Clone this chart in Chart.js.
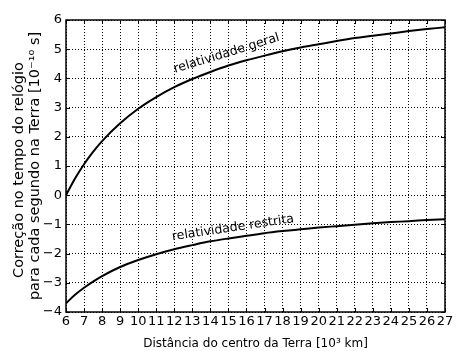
<!DOCTYPE html>
<html><head><meta charset="utf-8">
<script src="https://cdn.jsdelivr.net/npm/chart.js@4/dist/chart.umd.min.js"></script>
<style>html,body{margin:0;padding:0;background:#fff}#wrap{width:467px;height:351px}</style>
</head><body><div id="wrap"><canvas id="c" width="467" height="351"></canvas></div>
<script>
const distances = [6, 6.5, 7, 7.5, 8, 9, 10, 11, 12, 13, 14, 15, 16, 17, 18, 19, 20, 21, 22, 23, 24, 25, 26, 27];
const geral = [0.00, 0.57, 1.06, 1.48, 1.85, 2.46, 2.96, 3.36, 3.70, 3.98, 4.22, 4.44, 4.62, 4.78, 4.93, 5.06, 5.17, 5.28, 5.38, 5.46, 5.54, 5.62, 5.69, 5.75];
const restrita = [-3.70, -3.41, -3.17, -2.96, -2.77, -2.46, -2.22, -2.02, -1.85, -1.71, -1.58, -1.48, -1.39, -1.30, -1.23, -1.17, -1.11, -1.06, -1.01, -0.96, -0.92, -0.89, -0.85, -0.82];
const xTicks = [6,7,8,9,10,11,12,13,14,15,16,17,18,19,20,21,22,23,24,25,26,27];
const yTicks = [-4,-3,-2,-1,0,1,2,3,4,5,6];
const labelGeral = 'relatividade geral';
const labelRestrita = 'relatividade restrita';
const xTitle = 'Distância do centro da Terra [10³ km]';
const yTitle = ['Correção no tempo do relógio', 'para cada segundo na Terra [10⁻¹⁰ s]'];

const FONT = 'DejaVu Sans';
const L = 66, R = 445, T = 20, B = 312, W = 467, H = 351;

const frame = {
  id: 'frame',
  afterDraw(chart) {
    const ctx = chart.ctx, a = chart.chartArea, xs = chart.scales.x, ys = chart.scales.y;
    ctx.save();
    ctx.strokeStyle = '#000';
    ctx.lineWidth = 1;
    ctx.beginPath();
    xTicks.forEach(v => { const p = Math.round(xs.getPixelForValue(v)) + 0.5;
      ctx.moveTo(p, a.bottom); ctx.lineTo(p, a.bottom - 4);
      ctx.moveTo(p, a.top); ctx.lineTo(p, a.top + 4); });
    yTicks.forEach(v => { const p = Math.round(ys.getPixelForValue(v)) + 0.5;
      ctx.moveTo(a.left, p); ctx.lineTo(a.left + 4, p);
      ctx.moveTo(a.right, p); ctx.lineTo(a.right - 4, p); });
    ctx.stroke();
    ctx.lineWidth = 1.5;
    ctx.strokeRect(a.left, a.top, a.right - a.left, a.bottom - a.top);
    ctx.fillStyle = '#000';
    ctx.font = '12.5px "' + FONT + '"';
    ctx.textAlign = 'center'; ctx.textBaseline = 'middle';
    const gx = xs.getPixelForValue(14.9), gy = ys.getPixelForValue(4.85);
    ctx.save(); ctx.translate(gx, gy); ctx.rotate(-17 * Math.PI / 180); ctx.fillText(labelGeral, 0, 0); ctx.restore();
    const rx = xs.getPixelForValue(15.25), ry = ys.getPixelForValue(-1.12);
    ctx.save(); ctx.translate(rx, ry); ctx.rotate(-8.5 * Math.PI / 180); ctx.fillText(labelRestrita, 0, 0); ctx.restore();
    // y axis title, two lines
    ctx.font = '14.5px "' + FONT + '"';
    const cy = (a.top + a.bottom) / 2 + 4;
    ctx.save(); ctx.translate(19, cy); ctx.rotate(-Math.PI / 2); ctx.fillText(yTitle[0], 0, 0); ctx.restore();
    ctx.save(); ctx.translate(35, cy - 4); ctx.rotate(-Math.PI / 2); ctx.fillText(yTitle[1], 0, 0); ctx.restore();
    ctx.restore();
  }
};

new Chart(document.getElementById('c'), {
  type: 'line',
  data: {
    datasets: [
      { data: distances.map((d, i) => ({x: d, y: geral[i]})), borderColor: '#000', borderWidth: 2, pointRadius: 0, cubicInterpolationMode: 'monotone', fill: false },
      { data: distances.map((d, i) => ({x: d, y: restrita[i]})), borderColor: '#000', borderWidth: 2, pointRadius: 0, cubicInterpolationMode: 'monotone', fill: false }
    ]
  },
  options: {
    responsive: false, animation: false, devicePixelRatio: 1,
    layout: { padding: { top: T, right: W - R, left: 0, bottom: 0 } },
    plugins: { legend: { display: false }, tooltip: { enabled: false } },
    scales: {
      x: {
        type: 'linear', min: 6, max: 27,
        afterBuildTicks: s => { s.ticks = xTicks.map(v => ({value: v})); },
        afterFit: s => { s.height = H - B; },
        ticks: { color: '#000', font: { family: FONT, size: 13 }, padding: 2, maxRotation: 0, autoSkip: false },
        grid: { color: '#000', lineWidth: 1, drawTicks: false },
        border: { display: false, dash: [1, 2] },
        title: { display: true, text: xTitle, color: '#000', font: { family: FONT, size: 12 }, padding: { top: 0, bottom: 0 } }
      },
      y: {
        type: 'linear', min: -4, max: 6,
        afterBuildTicks: s => { s.ticks = yTicks.map(v => ({value: v})); },
        afterFit: s => { s.width = L; },
        ticks: { color: '#000', font: { family: FONT, size: 13 }, padding: 4, callback: v => String(v).replace('-', '\u2212') },
        grid: { color: '#000', lineWidth: 1, drawTicks: false },
        border: { display: false, dash: [1, 2] },
        title: { display: false }
      }
    }
  },
  plugins: [frame]
});
</script></body></html>
